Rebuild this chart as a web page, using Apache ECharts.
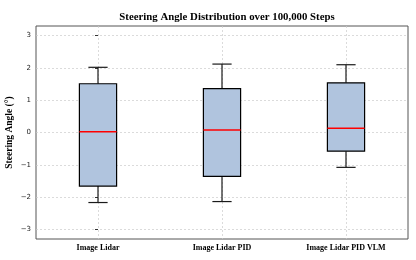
<!DOCTYPE html>
<html><head><meta charset="utf-8">
<script src="https://cdn.jsdelivr.net/npm/echarts@6/dist/echarts.min.js"></script>
<style>html,body{margin:0;padding:0;background:#fff}#c{width:416px;height:260px}</style>
</head><body><div id="c"></div>
<script>
const categories = ['Image Lidar', 'Image Lidar PID', 'Image Lidar PID VLM'];
const lowerWhisker = [-2.17, -2.14, -1.08];
const q1 = [-1.66, -1.36, -0.58];
const median = [0.02, 0.08, 0.13];
const q3 = [1.51, 1.36, 1.54];
const upperWhisker = [2.02, 2.12, 2.10];
const yTicks = [-3, -2, -1, 0, 1, 2, 3];
const xTicks = [0, 1, 2];

const data = categories.map((c, i) => [i, lowerWhisker[i], q1[i], median[i], q3[i], upperWhisker[i]]);
const chart = echarts.init(document.getElementById('c'), null, {renderer: 'canvas'});
const serif = '"Liberation Serif", "Times New Roman", serif';
function renderItem(params, api) {
  const x = api.value(0);
  const catW = api.size([1, 0])[0];
  const bw = catW * 0.3, cw = catW * 0.155;
  const p = k => api.coord([x, api.value(k)]);
  const lo = p(1), a = p(2), m = p(3), b = p(4), hi = p(5);
  const cx = lo[0];
  const wStyle = {stroke: '#1a1a1a', lineWidth: 1.2};
  return {type: 'group', children: [
    {type: 'line', shape: {x1: cx, y1: lo[1], x2: cx, y2: a[1]}, style: wStyle},
    {type: 'line', shape: {x1: cx, y1: b[1], x2: cx, y2: hi[1]}, style: wStyle},
    {type: 'line', shape: {x1: cx - cw/2, y1: lo[1], x2: cx + cw/2, y2: lo[1]}, style: wStyle},
    {type: 'line', shape: {x1: cx - cw/2, y1: hi[1], x2: cx + cw/2, y2: hi[1]}, style: wStyle},
    {type: 'rect', shape: {x: cx - bw/2, y: b[1], width: bw, height: a[1] - b[1]}, style: {fill: '#B0C4DE', stroke: '#000', lineWidth: 1.2}},
    {type: 'line', shape: {x1: cx - bw/2, y1: m[1], x2: cx + bw/2, y2: m[1]}, style: {stroke: '#ff0000', lineWidth: 1.5}}
  ]};
}
chart.setOption({
  animation: false,
  title: {text: 'Steering Angle Distribution over 100,000 Steps', left: 222, top: 7, textAlign: 'center',
    textStyle: {fontFamily: serif, fontWeight: 'bold', fontSize: 10.8, color: '#000'}},
  grid: {left: 36, right: 8, top: 26, bottom: 21, show: true, borderColor: '#555', borderWidth: 1,
    containLabel: false, outerBoundsMode: 'none'},
  xAxis: {type: 'value', min: -0.5, max: 2.5, splitNumber: 3,
    axisLine: {show: false},
    axisTick: {show: true, customValues: xTicks, length: 3, lineStyle: {color: '#333'}},
    axisLabel: {customValues: xTicks, fontFamily: serif, fontWeight: 'bold', fontSize: 8, color: '#000', margin: 5,
      formatter: v => categories[Math.round(v)] || ''},
    splitLine: {show: true, lineStyle: {color: '#ccc', type: [2, 2], width: 0.7}}
  },
  yAxis: {type: 'value', min: -3.3, max: 3.3,
    name: 'Steering Angle (°)', nameLocation: 'middle', nameGap: 21, nameMoveOverlap: false,
    nameTextStyle: {fontFamily: serif, fontWeight: 'bold', fontSize: 9.5, color: '#000'},
    axisLine: {show: false},
    axisTick: {show: true, length: 3, customValues: yTicks, lineStyle: {color: '#333'}},
    axisLabel: {customValues: yTicks, fontFamily: '"DejaVu Sans", sans-serif', fontSize: 7, color: '#222', margin: 5,
      formatter: v => v < 0 ? '\u2212' + Math.abs(v) : String(v)},
    splitLine: {show: true, lineStyle: {color: '#ccc', type: [2, 2], width: 0.7}}
  },
  series: [{type: 'custom', renderItem: renderItem, data: data, encode: {x: 0, y: [1, 2, 3, 4, 5]}}]
});
</script></body></html>
